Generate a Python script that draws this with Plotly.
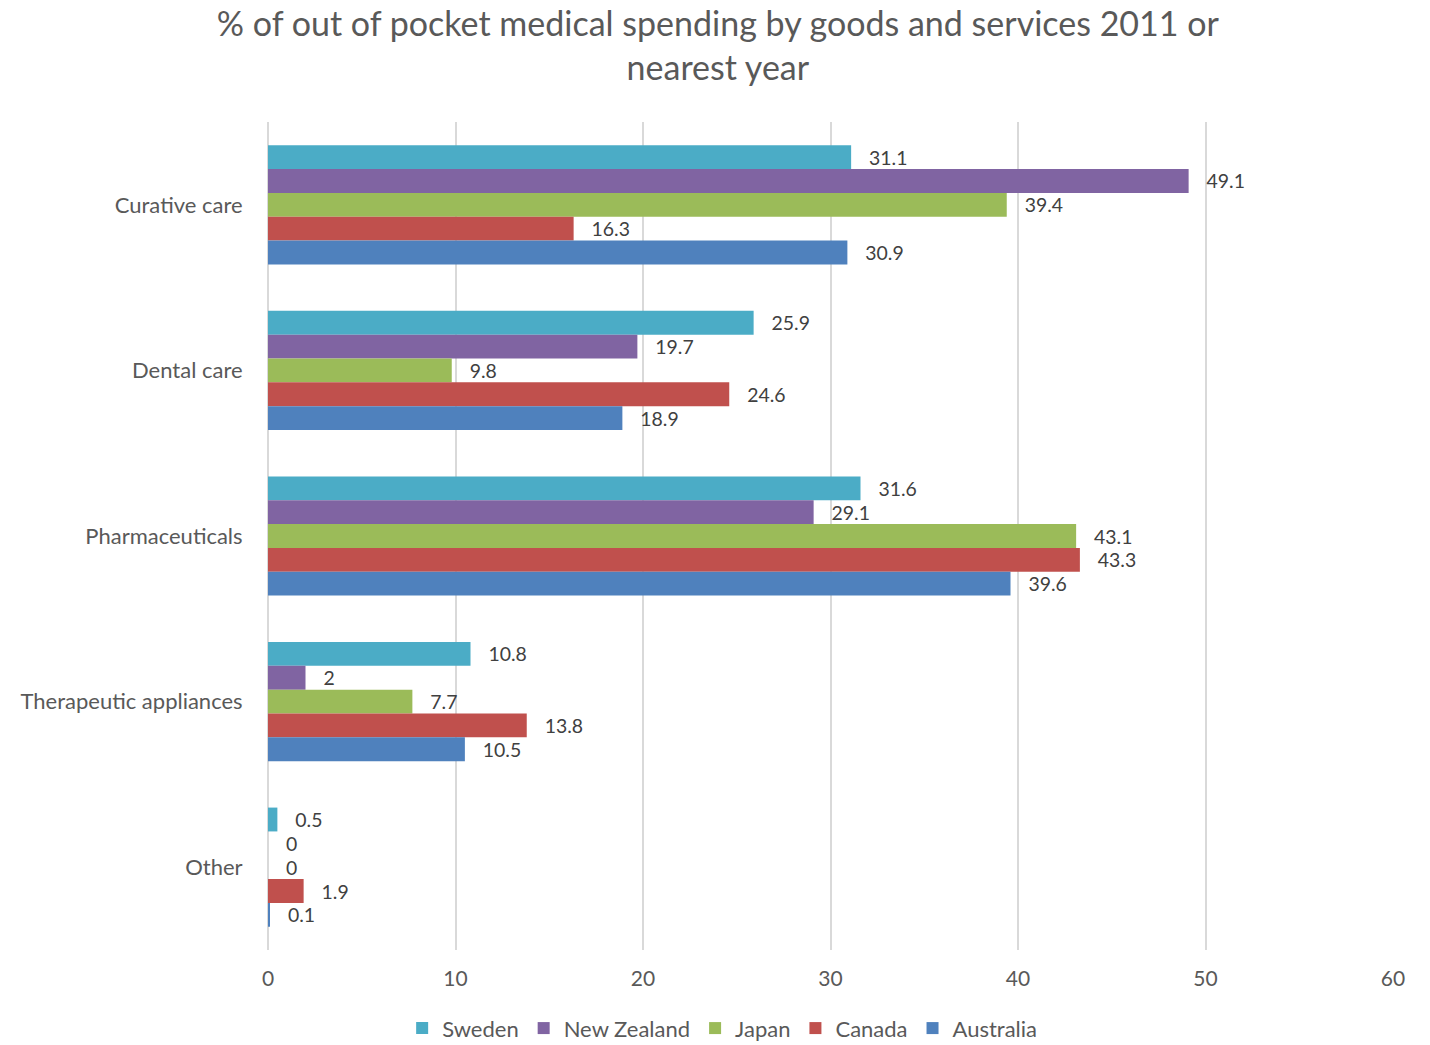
import plotly.graph_objects as go

categories = ["Curative care", "Dental care", "Pharmaceuticals", "Therapeutic appliances", "Other"]
countries = ["Sweden", "New Zealand", "Japan", "Canada", "Australia"]
sweden = [31.1, 25.9, 31.6, 10.8, 0.5]
new_zealand = [49.1, 19.7, 29.1, 2, 0]
japan = [39.4, 9.8, 43.1, 7.7, 0]
canada = [16.3, 24.6, 43.3, 13.8, 1.9]
australia = [30.9, 18.9, 39.6, 10.5, 0.1]
colors = ["#4BACC6", "#8064A2", "#9BBB59", "#C0504D", "#4F81BD"]

series = [sweden, new_zealand, japan, canada, australia]
font_family = "Lato, 'Open Sans', sans-serif"

fig = go.Figure()
for name, vals, col in zip(countries, series, colors):
    fig.add_trace(go.Bar(
        name=name,
        y=categories,
        x=vals,
        orientation="h",
        marker=dict(color=col, line=dict(width=0)),
        text=[f"{v:g}" for v in vals],
        texttemplate="\u00a0\u00a0\u00a0%{text}",
        textposition="outside",
        cliponaxis=False,
        textfont=dict(size=22, color="#404040", family=font_family),
    ))

fig.update_layout(
    barmode="group",
    bargap=0.28,
    bargroupgap=0,
    width=1430,
    height=1045,
    paper_bgcolor="white",
    plot_bgcolor="white",
    margin=dict(l=268, r=37, t=122, b=95, autoexpand=False),
    font=dict(family=font_family, color="#595959"),
    title=dict(
        text="% of out of pocket medical spending by goods and services 2011 or<br>nearest year",
        x=0.502, xanchor="center", xref="container",
        y=0.966, yanchor="top", yref="container",
        font=dict(size=34, color="#595959", family=font_family),
    ),
    xaxis=dict(
        range=[0, 60], dtick=10, showgrid=True, gridcolor="#D9D9D9", gridwidth=2,
        zeroline=True, zerolinecolor="#D9D9D9", zerolinewidth=2,
        tickfont=dict(size=21, color="#595959"), ticks="outside", ticklen=10,
        tickcolor="rgba(0,0,0,0)", showline=False,
    ),
    yaxis=dict(
        categoryorder="array", categoryarray=categories, autorange="reversed",
        tickfont=dict(size=22, color="#595959"), ticks="outside", ticklen=20,
        tickcolor="rgba(0,0,0,0)", showline=False,
    ),
    legend=dict(
        orientation="h", xref="container", x=0.505, xanchor="center",
        yref="container", y=0.016, yanchor="middle",
        font=dict(size=22, color="#595959"), traceorder="normal",
        itemwidth=30,
    ),
)

fig.write_html("out.html")
